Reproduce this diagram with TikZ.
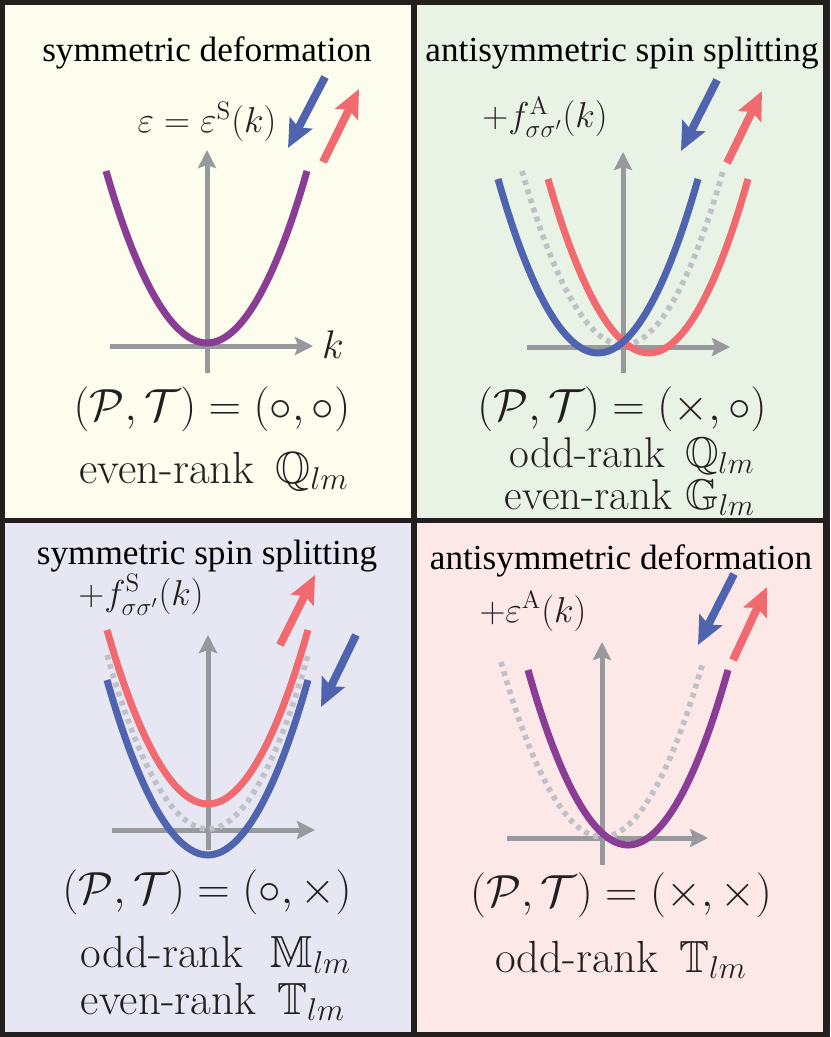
\RequirePackage{fix-cm}
\documentclass[tikz,border=0pt]{standalone}
\usepackage{amsmath}
\usepackage{amssymb}
\usepackage{fontspec}
\usetikzlibrary{arrows.meta}
\newfontfamily\titlefont{Liberation Serif}
\definecolor{edgecol}{HTML}{231F1C}
\definecolor{bgA}{HTML}{FCFDEC}
\definecolor{bgB}{HTML}{E8F2E5}
\definecolor{bgC}{HTML}{E6E7F3}
\definecolor{bgD}{HTML}{FDE8E8}
\definecolor{spinup}{HTML}{F06A6F}
\definecolor{spindn}{HTML}{4F64AF}
\definecolor{nospin}{HTML}{8A3D95}
\definecolor{axisgray}{HTML}{98999D}
\definecolor{refgray}{HTML}{BFC1C7}
\definecolor{ink}{HTML}{231F20}

\begin{document}
\begin{tikzpicture}[x=0.5pt, y=-0.5pt,
             axis/.style = {draw=axisgray, line width=2.5pt, -{Stealth[length=9pt,width=9pt,inset=1.5pt]}},
             band/.style = {line width=3.5pt},
            guide/.style = {draw=refgray, line width=2.8pt, dash pattern=on 2.4pt off 2.4pt},
             spin/.style = {line width=4pt, -{Stealth[length=14pt,width=12.5pt,inset=2.5pt]}},
            title/.style = {anchor=base, inner sep=0pt, font=\titlefont\fontsize{17.6}{20}\selectfont},
               eq/.style = {anchor=base, inner sep=0pt, text=ink, font=\fontsize{18}{21}\selectfont},
              sym/.style = {anchor=base, inner sep=0pt, text=ink, font=\fontsize{22.5}{26}\selectfont},
             rank/.style = {anchor=base, inner sep=0pt, text=ink, font=\fontsize{22.5}{26}\selectfont},
]
\useasboundingbox (0,0) rectangle (830,1037);
\fill[edgecol] (0,0) rectangle (830,1037);
\fill[bgA] (5,5) rectangle (411,518);
\fill[bgB] (417,5) rectangle (823,518);
\fill[bgC] (5,523) rectangle (411,1032);
\fill[bgD] (417,523) rectangle (823,1032);

%% symmetric deformation
\draw[axis] (207,373) -- (207,150);
\draw[axis] (110,346) -- (313,346);
\draw[band, nospin] (106,171) parabola bend (207,343) (307,171);
\draw[spin, spindn] (325,77) -- (288,148);
\draw[spin, spinup] (323,162) -- (359,89);
\node [title]  (symdef)     at (207,62)  {symmetric deformation};
\node [eq]     (symdefeq)   at (207,133) {$\varepsilon=\varepsilon^{\mathrm{S}}(k)$};
\node [eq, font=\fontsize{20}{24}\selectfont] (kaxis) at (333,358) {$k$};
\node [sym]    (symdefpt)   at (212,420) {$(\mathcal{P},\mathcal{T})=(\circ,\circ)$};
\node [rank]   (symdefrank) at (214,483) {even-rank\ \,$\mathbb{Q}_{lm}$};

%% antisymmetric spin splitting
\draw[axis] (623,373) -- (623,152);
\draw[axis] (527,347) -- (730,347);
\draw[guide] (522,171) parabola bend (623,345) (723,171);
\draw[band, spinup] (548,179) parabola bend (649,353) (748,179);
\draw[band, spindn] (498,179) parabola bend (598,353) (698,179);
\draw[spin, spindn] (717,80) -- (681,151);
\draw[spin, spinup] (727,163) -- (762,91);
\node [title]  (asymspl)     at (622,62)  {antisymmetric spin splitting};
\node [eq]     (asymspleq)   at (545,128) {$+f^{\mathrm{A}}_{\sigma\sigma'}(k)$};
\node [sym]    (asymsplpt)   at (622,420) {$(\mathcal{P},\mathcal{T})=(\times,\circ)$};
\node [rank, font=\fontsize{21.5}{25}\selectfont] (asymsplodd)  at (632,467) {odd-rank\ \,$\mathbb{Q}_{lm}$};
\node [rank, font=\fontsize{21.5}{25}\selectfont] (asymspleven) at (630,509) {even-rank $\mathbb{G}_{lm}$};

%% symmetric spin splitting
\draw[axis] (208,850) -- (208,635);
\draw[axis] (112,830) -- (315,830);
\draw[guide] (107,655) parabola bend (208,829) (308,655);
\draw[band, spinup] (107,630) parabola bend (208,804) (308,630);
\draw[band, spindn] (107,680) parabola bend (208,855) (308,680);
\draw[spin, spinup] (280,645) -- (315,575);
\draw[spin, spindn] (356,635) -- (321,707);
\node [title]  (symspl)     at (207,564)  {symmetric spin splitting};
\node [eq]     (symspleq)   at (141,605)  {$+f^{\mathrm{S}}_{\sigma\sigma'}(k)$};
\node [sym]    (symsplpt)   at (207,903)  {$(\mathcal{P},\mathcal{T})=(\circ,\times)$};
\node [rank]   (symsplodd)  at (216,967)  {odd-rank\ \ $\mathbb{M}_{lm}$};
\node [rank]   (symspleven) at (213,1014) {even-rank\ \,$\mathbb{T}_{lm}$};

%% antisymmetric deformation
\draw[axis] (602,865) -- (602,642);
\draw[axis] (507,838) -- (708,838);
\draw[guide] (501,662) parabola bend (602,837) (703,662);
\draw[band, nospin] (528,670) parabola bend (628,845) (728,670);
\draw[spin, spindn] (734,574) -- (698,645);
\draw[spin, spinup] (733,660) -- (767,587);
\node [title]  (asymdef)     at (621,569) {antisymmetric deformation};
\node [eq]     (asymdefeq)   at (533,622) {$+\varepsilon^{\mathrm{A}}(k)$};
\node [sym]    (asymdefpt)   at (621,906) {$(\mathcal{P},\mathcal{T})=(\times,\times)$};
\node [rank]   (asymdefrank) at (621,972) {odd-rank\ \,$\mathbb{T}_{lm}$};
\end{tikzpicture}
\end{document}
